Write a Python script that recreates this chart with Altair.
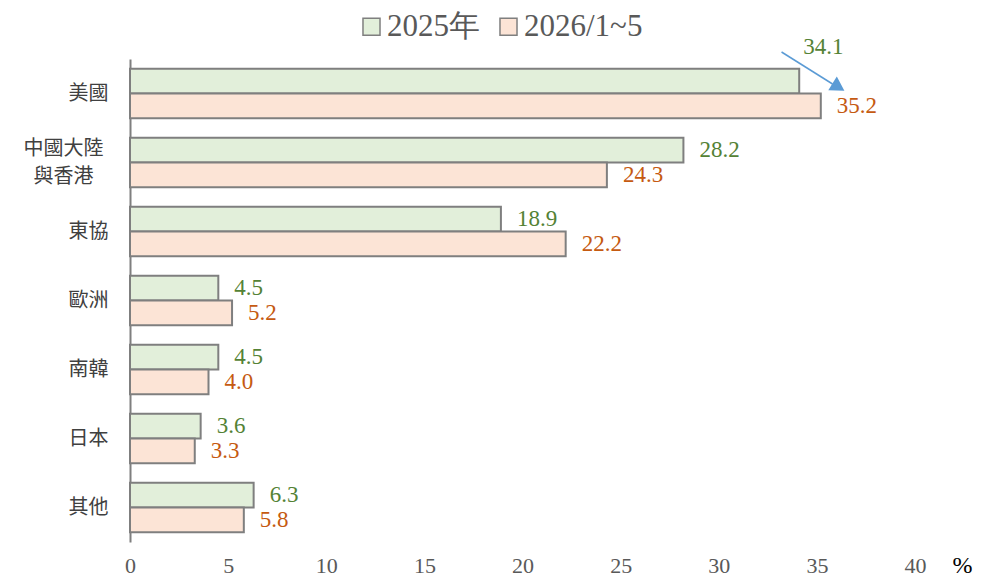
import altair as alt
import pandas as pd

categories = ["美國", "中國大陸\n與香港", "東協", "歐洲", "南韓", "日本", "其他"]
series = ["2025年", "2026/1~5"]
values_2025 = [34.1, 28.2, 18.9, 4.5, 4.5, 3.6, 6.3]
values_2026 = [35.2, 24.3, 22.2, 5.2, 4.0, 3.3, 5.8]
x_ticks = [0, 5, 10, 15, 20, 25, 30, 35, 40]

rows = []
for c, a, b in zip(categories, values_2025, values_2026):
    rows.append({"cat": c, "series": series[0], "v": a, "label": f"{a:.1f}"})
    rows.append({"cat": c, "series": series[1], "v": b, "label": f"{b:.1f}"})
df = pd.DataFrame(rows)

SERIF = "Liberation Serif, Times New Roman, serif"
CJK = "Noto Sans CJK TC"

two_line = "indexof(datum.value, '與') >= 0"

x_enc = alt.X("v:Q", scale=alt.Scale(domain=[0, 40], nice=False),
              axis=alt.Axis(values=x_ticks, grid=False, domain=False, ticks=False,
                            labelFlush=False,
                            labelFont=SERIF, labelFontSize=22, labelColor="#595959",
                            labelPadding=13, title="%", titleFont=SERIF,
                            titleFontSize=24, titleFontWeight="normal", titleColor="#000000",
                            titleAngle=0, titleX=832, titleY=30, titleAlign="center",
                            titleBaseline="alphabetic"))
y_enc = alt.Y("cat:N", sort=categories,
              scale=alt.Scale(paddingInner=0.28, paddingOuter=0.14),
              axis=alt.Axis(title=None, domainColor="#7f7f7f", domainWidth=2, ticks=False,
                            labelFont=CJK, labelFontSize=20, labelColor="#404040",
                            labelPadding={"condition": {"test": two_line, "value": 67}, "value": 22},
                            labelAlign={"condition": {"test": two_line, "value": "center"}, "value": "right"},
                            labelOffset={"condition": {"test": two_line, "value": -14}, "value": 0},
                            labelLineHeight=28,
                            labelExpr="split(datum.label, '\\n')"))
yoff = alt.YOffset("series:N", sort=series)

color_scale = alt.Scale(domain=series, range=["#e2efda", "#fce4d6"])

bars = alt.Chart(df).mark_bar(stroke="#7f7f7f", strokeWidth=2).encode(
    x=x_enc, y=y_enc, yOffset=yoff,
    fill=alt.Fill("series:N", scale=color_scale, sort=series,
                  legend=alt.Legend(title=None, orient="none", direction="horizontal",
                                    legendX=226, legendY=-48, padding=0, symbolType="square",
                                    symbolSize=290, symbolStrokeColor="#7f7f7f",
                                    symbolStrokeWidth=1.5, labelFont=SERIF,
                                    labelFontSize=31, labelColor="#595959",
                                    labelOffset=0, columnPadding=13, labelLimit=300)),
)

label_color = alt.Color("series:N", scale=alt.Scale(domain=series, range=["#548235", "#c55a11"]),
                        legend=None)

labels = alt.Chart(df).transform_filter(
    "!(datum.cat == '美國' && datum.series == '2025年')"
).mark_text(align="left", baseline="middle", dx=16, font=SERIF, fontSize=23).encode(
    x="v:Q", y=alt.Y("cat:N", sort=categories), yOffset=yoff, text="label:N", color=label_color,
)

top_label = alt.Chart(df).transform_filter(
    "datum.cat == '美國' && datum.series == '2025年'"
).mark_text(align="left", baseline="middle", dx=4, dy=-34, font=SERIF, fontSize=23).encode(
    x="v:Q", y=alt.Y("cat:N", sort=categories), yOffset=yoff, text="label:N", color=label_color,
)

arrow_line = pd.DataFrame({"x": [33.2], "x2": [35.8]})
arrow_head = pd.DataFrame({"x": [36.1]})

line = alt.Chart(arrow_line).mark_rule(color="#5b9bd5", strokeWidth=1.5).encode(
    x="x:Q", x2="x2:Q", y=alt.value(-7), y2=alt.value(25),
)
head = alt.Chart(arrow_head).mark_point(shape="triangle-right", filled=True, opacity=1,
                                        color="#5b9bd5", size=260, angle=32).encode(
    x="x:Q", y=alt.value(28),
)

chart = alt.layer(bars, labels, top_label, line, head).resolve_scale(
    color="independent"
).properties(
    width=785, height=483,
    autosize=alt.AutoSizeParams(type="none"),
    padding={"left": 122, "top": 51, "right": 60, "bottom": 38},
).configure_view(stroke=None).configure_legend(
    labelFont=SERIF, labelFontSize=31, labelColor="#595959"
)

chart.save("out.html", embed_options={"renderer": "svg", "actions": False})
